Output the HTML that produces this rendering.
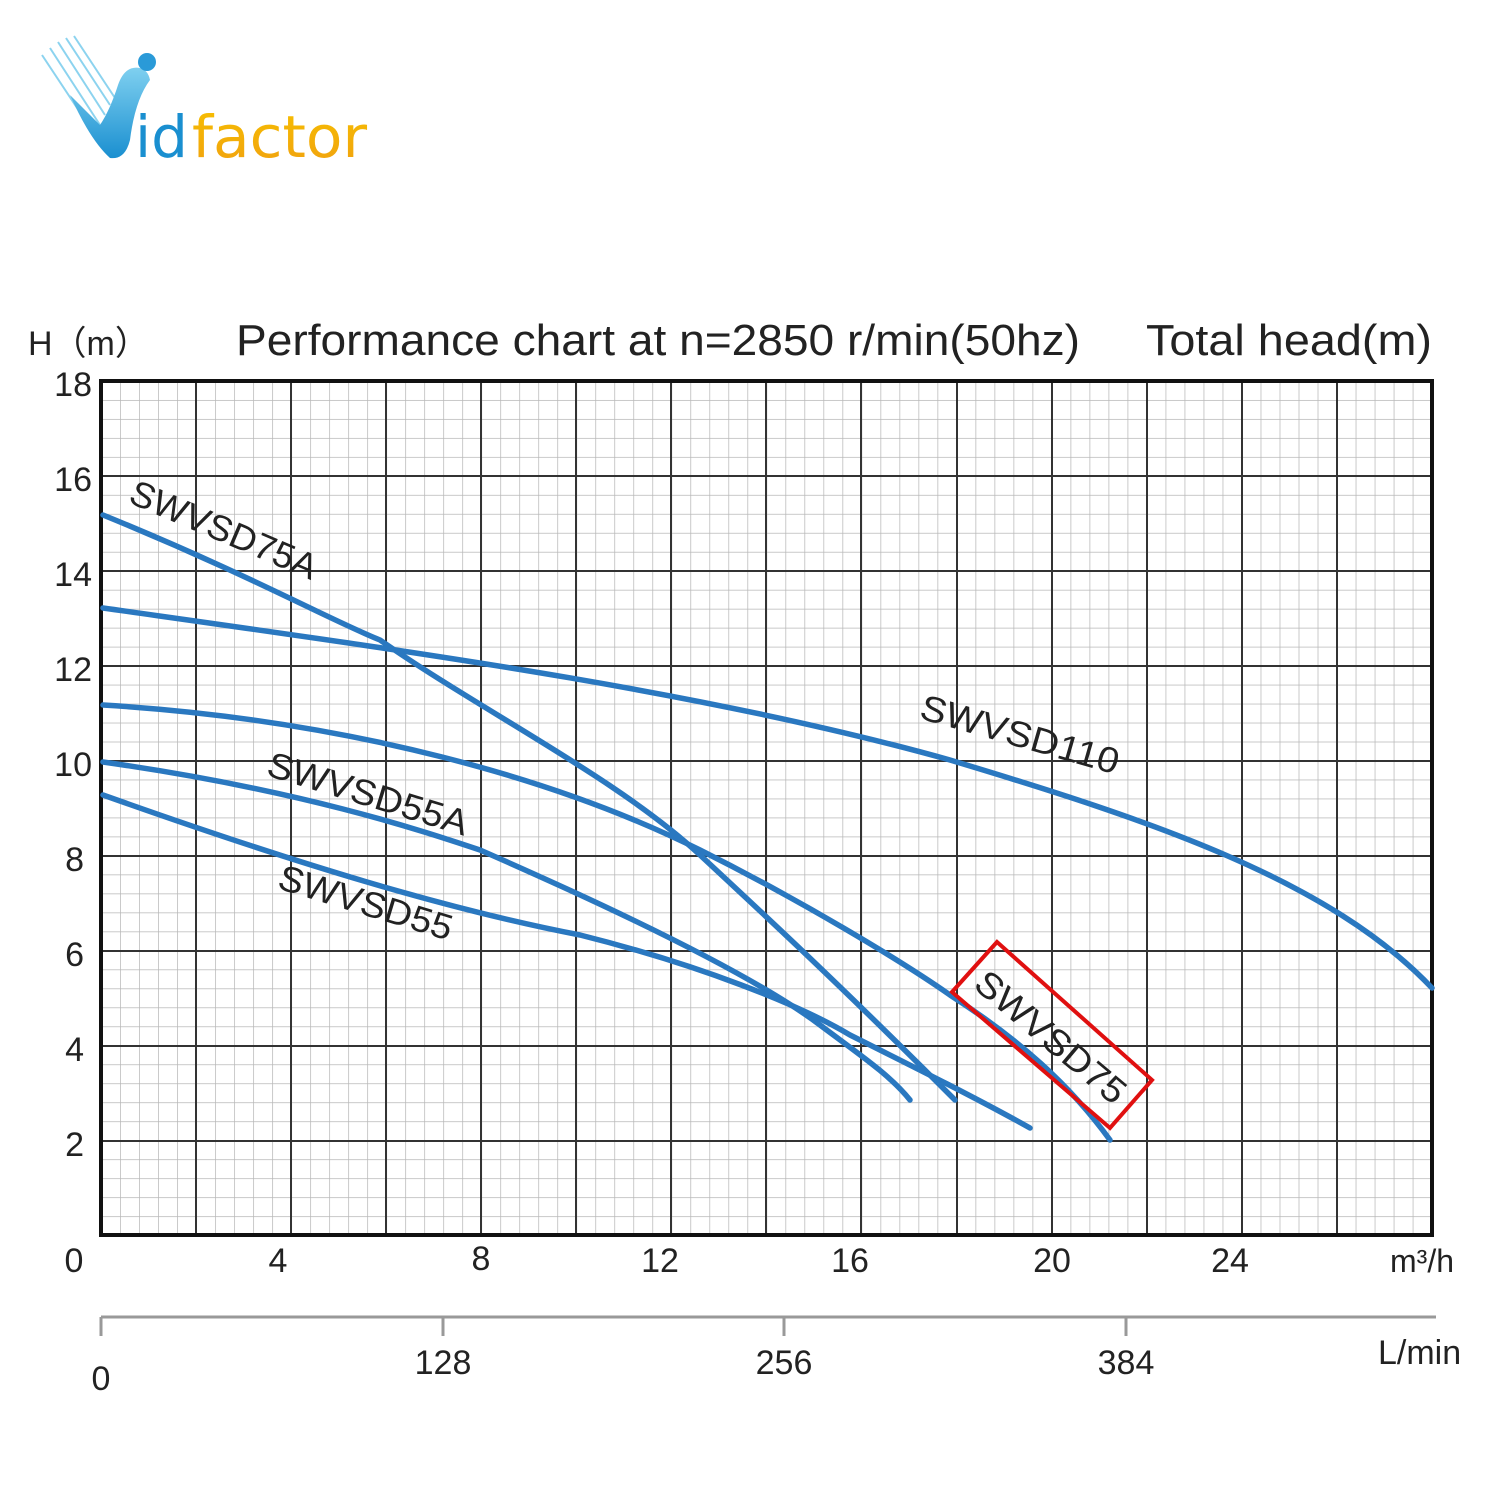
<!DOCTYPE html>
<html><head><meta charset="utf-8"><style>
html,body{margin:0;padding:0;background:#fff;}
svg{display:block}
text{font-family:"Liberation Sans",sans-serif;fill:#222}
</style></head><body>
<svg width="1500" height="1500" viewBox="0 0 1500 1500" xmlns="http://www.w3.org/2000/svg">
<defs>
<pattern id="minor" x="101" y="381" width="19.01" height="18.98" patternUnits="userSpaceOnUse">
<path d="M0 0H19.01M0 0V18.98" stroke="#b8b8b8" stroke-width="1.5" fill="none"/>
</pattern>
<linearGradient id="bl" x1="0" y1="0" x2="0" y2="1"><stop offset="0" stop-color="#7fd0f0"/><stop offset="1" stop-color="#1a8fd0"/></linearGradient>
<linearGradient id="or" x1="0" y1="0" x2="0" y2="1"><stop offset="0" stop-color="#f7c000"/><stop offset="1" stop-color="#f0a010"/></linearGradient>
</defs>
<!-- logo -->
<g stroke="#8cd3ef" stroke-width="2">
<line x1="42" y1="55" x2="95" y2="135"/><line x1="50" y1="48" x2="100" y2="125"/><line x1="58" y1="42" x2="105" y2="115"/><line x1="66" y1="38" x2="110" y2="105"/><line x1="74" y1="36" x2="115" y2="98"/>
</g>
<path d="M70 95 Q90 140 110 158 Q125 160 130 140 Q135 100 150 80 Q148 70 140 68 Q125 65 118 85 Q110 110 100 125 Z" fill="url(#bl)"/>
<circle cx="147" cy="62" r="9" fill="#2a9ad8"/>
<text x="135" y="157" font-size="58" style="fill:#1a8fd0;font-family:'DejaVu Sans',sans-serif">id</text>
<text x="192" y="157" font-size="58" textLength="175" lengthAdjust="spacingAndGlyphs" style="fill:url(#or);font-family:'DejaVu Sans',sans-serif">factor</text>
<!-- titles -->
<text x="28" y="355" font-size="34">H（m）</text>
<text x="236" y="355" font-size="44" textLength="844" lengthAdjust="spacingAndGlyphs">Performance chart at n=2850 r/min(50hz)</text>
<text x="1146" y="355" font-size="44" textLength="286" lengthAdjust="spacingAndGlyphs">Total head(m)</text>
<!-- grid -->
<rect x="101" y="381" width="1331" height="854" fill="url(#minor)"/>
<g stroke="#333" stroke-width="2">
<line x1="196" y1="381" x2="196" y2="1235"/><line x1="291" y1="381" x2="291" y2="1235"/><line x1="386" y1="381" x2="386" y2="1235"/><line x1="481" y1="381" x2="481" y2="1235"/><line x1="576" y1="381" x2="576" y2="1235"/><line x1="671" y1="381" x2="671" y2="1235"/><line x1="766" y1="381" x2="766" y2="1235"/><line x1="861" y1="381" x2="861" y2="1235"/><line x1="957" y1="381" x2="957" y2="1235"/><line x1="1052" y1="381" x2="1052" y2="1235"/><line x1="1147" y1="381" x2="1147" y2="1235"/><line x1="1242" y1="381" x2="1242" y2="1235"/><line x1="1337" y1="381" x2="1337" y2="1235"/>
<line x1="101" y1="476" x2="1432" y2="476"/><line x1="101" y1="571" x2="1432" y2="571"/><line x1="101" y1="666" x2="1432" y2="666"/><line x1="101" y1="761" x2="1432" y2="761"/><line x1="101" y1="856" x2="1432" y2="856"/><line x1="101" y1="951" x2="1432" y2="951"/><line x1="101" y1="1046" x2="1432" y2="1046"/><line x1="101" y1="1141" x2="1432" y2="1141"/>
</g>
<rect x="101" y="381" width="1331" height="854" fill="none" stroke="#111" stroke-width="4"/>
<!-- y labels -->
<g font-size="34" text-anchor="end">
<text x="92" y="396">18</text><text x="92" y="491">16</text><text x="92" y="586">14</text><text x="92" y="681">12</text><text x="92" y="776">10</text><text x="84" y="871">8</text><text x="84" y="966">6</text><text x="84" y="1061">4</text><text x="84" y="1156">2</text>
</g>
<g font-size="34" text-anchor="middle">
<text x="74" y="1272">0</text><text x="278" y="1272">4</text><text x="481" y="1270">8</text><text x="660" y="1272">12</text><text x="850" y="1272">16</text><text x="1052" y="1272">20</text><text x="1230" y="1272">24</text>
</g>
<text x="1390" y="1272" font-size="32">m³/h</text>
<!-- L/min axis -->
<g stroke="#999" stroke-width="3" fill="none">
<line x1="101" y1="1317" x2="1436" y2="1317"/><line x1="101" y1="1317" x2="101" y2="1336"/><line x1="443" y1="1317" x2="443" y2="1336"/><line x1="784" y1="1317" x2="784" y2="1336"/><line x1="1126" y1="1317" x2="1126" y2="1336"/>
</g>
<g font-size="34" text-anchor="middle">
<text x="101" y="1390">0</text><text x="443" y="1374">128</text><text x="784" y="1374">256</text><text x="1126" y="1374">384</text>
</g>
<text x="1378" y="1364" font-size="34">L/min</text>
<!-- curves -->
<g fill="none" stroke="#2a78c0" stroke-width="5.5" stroke-linecap="round">
<path d="M103 515 C250 575 330 620 380 640 C480 710 620 780 700 855 C770 920 840 985 955 1100"/>
<path d="M103 608 C400 650 700 690 950 760 C1150 820 1330 880 1432 988"/>
<path d="M103 705 C350 720 560 780 700 850 C800 900 900 960 950 995 C1020 1040 1070 1085 1110 1140"/>
<path d="M103 762 C300 790 420 830 480 850 C640 920 760 980 820 1025 C860 1055 890 1075 910 1100"/>
<path d="M103 795 C300 865 450 910 580 935 C700 965 800 1005 850 1035 C920 1070 980 1100 1030 1128"/>
</g>
<!-- curve labels -->
<g font-size="36" style="fill:#1a1a1a">
<text transform="translate(127,502) rotate(23)" textLength="200" lengthAdjust="spacingAndGlyphs">SWVSD75A</text>
<text transform="translate(918,718) rotate(16)" textLength="205" lengthAdjust="spacingAndGlyphs">SWVSD110</text>
<text transform="translate(265,775) rotate(17)" textLength="208" lengthAdjust="spacingAndGlyphs">SWVSD55A</text>
<text transform="translate(276,888) rotate(17)" textLength="180" lengthAdjust="spacingAndGlyphs">SWVSD55</text>
<text transform="translate(972,987) rotate(40)" textLength="185" lengthAdjust="spacingAndGlyphs">SWVSD75</text>
</g>
<polygon points="997,942 1152,1080 1110,1128 952,992" fill="none" stroke="#e01010" stroke-width="4"/>
</svg>
</body></html>
